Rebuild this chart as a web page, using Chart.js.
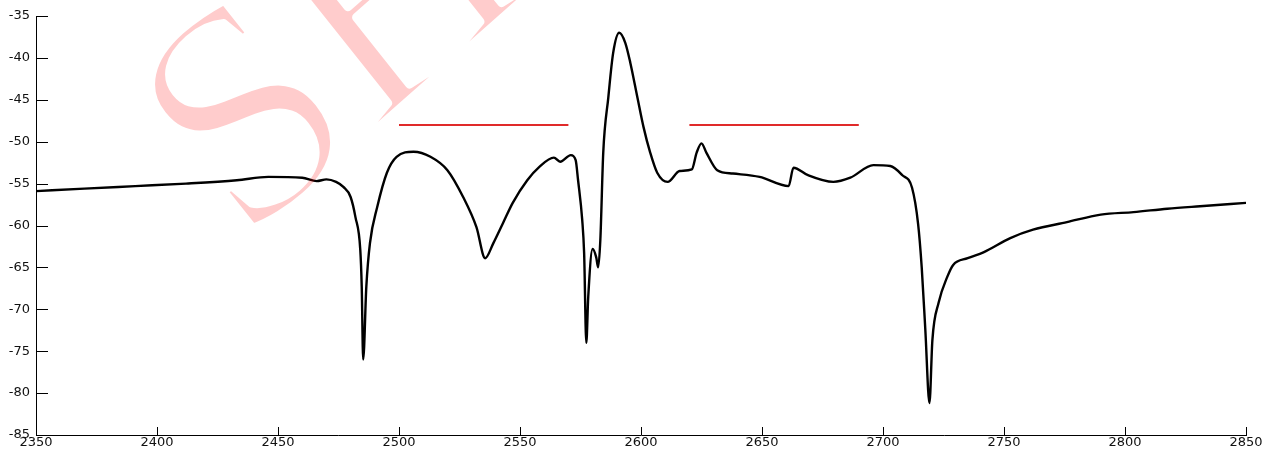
<!DOCTYPE html>
<html lang="en">
<head>
  <meta charset="UTF-8">
  <title>Spectrum</title>
  <script src="https://cdn.jsdelivr.net/npm/chart.js"></script>
  <style>
    body {
      margin: 0;
      background: #fff;
    }
    canvas {
      display: block;
    }
  </style>
</head>
<body>
  <canvas id="spectrum" width="1275" height="450"></canvas>

  <script>
    // curve
    const wavelength = [
      2350, 2370, 2391, 2412, 2433, 2446, 2460, 2466, 2470, 2474,
      2477, 2480, 2482, 2484, 2484.6, 2485.2, 2486.5, 2488, 2491, 2495,
      2499, 2506, 2513, 2520, 2526.5, 2532, 2535.6, 2539, 2543, 2547,
      2553, 2558, 2564, 2566.6, 2571, 2573, 2574, 2575.7, 2576.5, 2577.4,
      2578.2, 2580, 2581.5, 2582.3, 2583.2, 2584.4, 2586.5, 2588.5, 2591, 2593.5,
      2595.6, 2598.5, 2601, 2603.8, 2606.7, 2611, 2616, 2621, 2623, 2625,
      2627, 2631.5, 2638, 2649, 2661, 2663, 2669, 2679.5, 2686.5, 2696,
      2703, 2708, 2712, 2714.5, 2716, 2717.5, 2719.2, 2720.4, 2723, 2726.6,
      2729, 2735, 2741.5, 2752.6, 2762, 2776, 2790, 2803.5, 2817.5, 2831,
      2850
    ];
    const signal = [
      -55.9, -55.6, -55.3, -55.0, -54.6, -54.2, -54.3, -54.7, -54.5, -54.8,
      -55.4, -56.6, -59.0, -62.9, -67.3, -76.0, -67.3, -62.1, -57.8, -53.7,
      -51.8, -51.2, -51.8, -53.4, -56.6, -60.2, -63.9, -62.1, -59.7, -57.3,
      -54.6, -53.0, -51.9, -52.4, -51.6, -52.2, -54.6, -59.3, -63.3, -74.0,
      -68.5, -62.8, -63.8, -65.0, -61.7, -51.3, -44.7, -39.4, -37.0, -38.2,
      -40.6, -44.7, -48.2, -51.3, -53.7, -54.8, -53.5, -53.3, -51.3, -50.2,
      -51.3, -53.4, -53.8, -54.2, -55.3, -53.1, -54.0, -54.8, -54.3, -52.8,
      -52.9, -54.0, -55.5, -59.8, -65.0, -72.5, -81.2, -73.7, -69.2, -66.1,
      -64.7, -63.9, -63.2, -61.5, -60.5, -59.6, -58.7, -58.4, -58.0, -57.7,
      -57.3
    ];

    // red marker bars
    const bandA = [2500, 2570];
    const bandB = [2620, 2690];
    const bandLevel = -48;

    const yTicks = [-85, -80, -75, -70, -65, -60, -55, -50, -45, -40, -35];
    const xTicks = [2350, 2400, 2450, 2500, 2550, 2600, 2650, 2700, 2750, 2800, 2850];

    const curve = wavelength.map((x, i) => ({ x: x, y: signal[i] }));

    // inward tick marks like the original plot
    const innerTicks = {
      id: 'innerTicks',
      afterDraw(chart) {
        const ctx = chart.ctx;
        const xs = chart.scales.x;
        const ys = chart.scales.y;
        const area = chart.chartArea;
        ctx.save();
        ctx.strokeStyle = '#000';
        ctx.lineWidth = 1;
        ctx.beginPath();
        yTicks.forEach(v => {
          const py = Math.round(ys.getPixelForValue(v)) + 0.5;
          ctx.moveTo(area.left, py);
          ctx.lineTo(area.left + 12, py);
        });
        xTicks.forEach(v => {
          const px = Math.round(xs.getPixelForValue(v)) + 0.5;
          ctx.moveTo(px, area.bottom);
          ctx.lineTo(px, area.bottom - 8);
        });
        ctx.stroke();
        ctx.restore();
      }
    };

    // pale slanted watermark, thinned by eroding the glyph edges
    const watermark = {
      id: 'watermark',
      afterDraw(chart) {
        const off = document.createElement('canvas');
        off.width = chart.width;
        off.height = chart.height;
        const o = off.getContext('2d');
        o.translate(242, 248);
        o.scale(0.95, 1);
        o.rotate(-40 * Math.PI / 180);
        o.font = '315px "Liberation Serif"';
        o.fillStyle = '#ff0000';
        o.fillText('SH', 0, 0);
        o.globalCompositeOperation = 'destination-out';
        o.lineWidth = 9;
        o.lineJoin = 'round';
        o.strokeText('SH', 0, 0);

        const ctx = chart.ctx;
        ctx.save();
        ctx.globalAlpha = 0.2;
        ctx.drawImage(off, 0, 0);
        ctx.restore();
      }
    };

    new Chart(document.getElementById('spectrum'), {
      type: 'line',
      data: {
        datasets: [
          {
            data: curve,
            borderColor: '#000',
            borderWidth: 2.4,
            pointRadius: 0,
            cubicInterpolationMode: 'monotone'
          },
          {
            data: bandA.map(x => ({ x: x, y: bandLevel })),
            borderColor: '#e02a2a',
            borderWidth: 2,
            pointRadius: 0
          },
          {
            data: bandB.map(x => ({ x: x, y: bandLevel })),
            borderColor: '#e02a2a',
            borderWidth: 2,
            pointRadius: 0
          }
        ]
      },
      options: {
        responsive: false,
        animation: false,
        layout: {
          padding: { top: 16, right: 29, left: 0, bottom: 0 }
        },
        plugins: {
          legend: { display: false },
          tooltip: { enabled: false }
        },
        scales: {
          x: {
            type: 'linear',
            min: 2350,
            max: 2850,
            afterBuildTicks: s => { s.ticks = xTicks.map(v => ({ value: v })); },
            afterFit: s => { s.height = 15; },
            grid: { display: false, drawTicks: false },
            border: { display: true, color: '#000', width: 1 },
            ticks: {
              padding: 0,
              autoSkip: false,
              maxRotation: 0,
              color: '#111',
              font: { family: 'DejaVu Sans', size: 13 },
              callback: v => String(v)
            }
          },
          y: {
            min: -85,
            max: -35,
            afterBuildTicks: s => { s.ticks = yTicks.map(v => ({ value: v })); },
            afterFit: s => { s.width = 36; },
            grid: { display: false, drawTicks: false },
            border: { display: true, color: '#000', width: 1 },
            ticks: {
              padding: 6,
              color: '#111',
              font: { family: 'DejaVu Sans', size: 13 },
              callback: v => String(v)
            }
          }
        }
      },
      plugins: [innerTicks, watermark]
    });
  </script>
</body>
</html>
